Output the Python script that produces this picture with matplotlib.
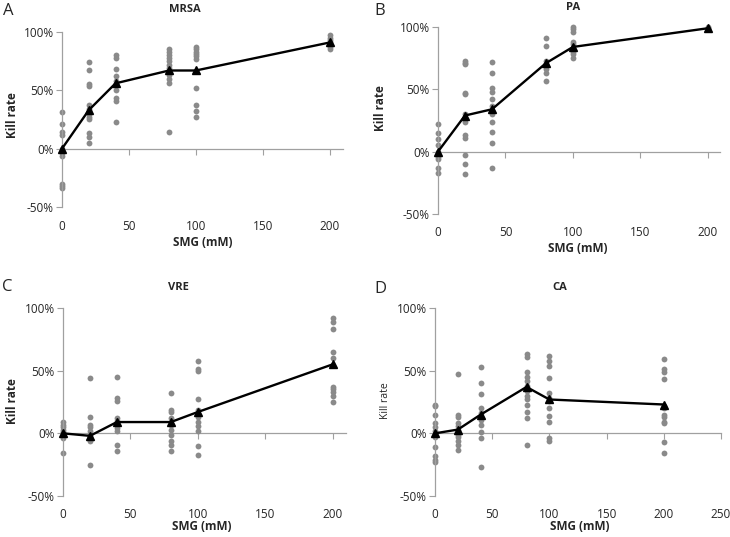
import numpy as np
import matplotlib
matplotlib.use("Agg")
import matplotlib.pyplot as plt
from matplotlib.ticker import FuncFormatter

plt.rcParams['font.family'] = ['Open Sans', 'DejaVu Sans']

# SMG concentrations (mM)
doses = [0, 20, 40, 80, 100, 200]

# individual kill rates (%) per dose
mrsa_pts = [
    [31, 21, 14, 12, 0, -2, -4, -6, -30, -32, -34],
    [74, 67, 55, 54, 37, 34, 32, 30, 27, 25, 13, 10, 5],
    [80, 78, 68, 62, 58, 55, 50, 43, 41, 23],
    [85, 83, 80, 78, 75, 72, 69, 66, 63, 60, 56, 14],
    [87, 85, 83, 81, 79, 77, 52, 37, 32, 27],
    [97, 95, 93, 91, 89, 87, 85],
]
mrsa_mean = [0, 33, 56, 67, 67, 91]

pa_pts = [
    [22, 15, 10, 5, 0, -2, -4, -6, -13, -17],
    [73, 71, 70, 47, 46, 30, 24, 13, 11, -3, -10, -18],
    [72, 63, 51, 48, 42, 37, 33, 30, 24, 16, 7, -13],
    [91, 85, 73, 70, 66, 63, 57],
    [100, 98, 96, 88, 86, 82, 80, 78, 75],
    [100, 99, 98],
]
pa_mean = [0, 29, 34, 71, 84, 99]

vre_pts = [
    [9, 7, 5, 3, 1, 0, -2, -4, -16],
    [44, 13, 7, 5, 2, -1, -3, -4, -5, -6, -25],
    [45, 28, 26, 12, 10, 7, 4, 2, -9, -14],
    [32, 19, 17, 12, 7, 3, -1, -6, -9, -14],
    [58, 51, 50, 27, 19, 13, 9, 6, 2, -10, -17],
    [92, 89, 83, 65, 60, 37, 35, 33, 30, 25],
]
vre_mean = [0, -2, 9, 9, 17, 55]

ca_pts = [
    [23, 22, 15, 8, 5, 2, -1, -3, -11, -18, -21, -23],
    [47, 15, 13, 8, 6, 3, -1, -3, -6, -9, -13],
    [53, 40, 31, 20, 16, 11, 7, 1, -4, -27],
    [63, 61, 49, 45, 42, 38, 34, 30, 27, 23, 17, 12, -9],
    [62, 58, 54, 44, 32, 28, 26, 20, 14, 9, -4, -6],
    [59, 51, 49, 43, 22, 20, 15, 13, 9, 8, -7, -16],
]
ca_mean = [0, 3, 15, 37, 27, 23]

W, H = 730, 537
fig = plt.figure(figsize=(W / 100, H / 100), dpi=100)

# panel: (points, means, name, letter, axes box px [x0, ybottom, x1, ytop], xmax, xticks,
#         title xy, letter xy, xlabel xy, ylabel xy, bold ylabel)
panels = [
    (mrsa_pts, mrsa_mean, 'MRSA', 'A', [62, 207, 343, 32], 210, [0, 50, 100, 150, 200],
     (185, 9), (8, 11), (203, 243), (13, 115), True),
    (pa_pts, pa_mean, 'PA', 'B', [438, 214, 720, 27], 209, [0, 50, 100, 150, 200],
     (573, 8), (380, 11), (578, 248), (380, 108), True),
    (vre_pts, vre_mean, 'VRE', 'C', [63, 496, 346, 308], 210, [0, 50, 100, 150, 200],
     (178, 287), (7, 287), (202, 527), (13, 401), True),
    (ca_pts, ca_mean, 'CA', 'D', [435, 496, 721, 308], 250, [0, 50, 100, 150, 200, 250],
     (560, 287), (380, 289), (580, 527), (385, 401), False),
]

axis_grey = '#a0a0a0'
dot_grey = '#8a8a8a'
text_col = '#262626'

for pts, means, name, letter, box, xmax, xt, tpos, lpos, xlpos, ylpos, ybold in panels:
    x0, yb, x1, yt = box
    ax = fig.add_axes([x0 / W, 1 - yb / H, (x1 - x0) / W, (yb - yt) / H])
    for d, vals in zip(doses, pts):
        ax.plot([d] * len(vals), vals, 'o', color=dot_grey, ms=4.2, mec='none',
                zorder=2, clip_on=False)
    ax.plot(doses, means, '-^', color='black', lw=1.7, ms=6, zorder=3, clip_on=False)

    ax.set_xlim(0, xmax)
    ax.set_ylim(-50, 100)
    ax.set_yticks([-50, 0, 50, 100])
    ax.yaxis.set_major_formatter(FuncFormatter(lambda v, p: '%d%%' % v))
    ax.set_xticks(xt)
    for s in ['top', 'right', 'bottom']:
        ax.spines[s].set_visible(False)
    ax.spines['left'].set_color(axis_grey)
    ax.spines['left'].set_linewidth(0.9)
    ax.tick_params(axis='y', length=4, color=axis_grey, labelsize=8.5,
                   labelcolor=text_col, pad=2)
    ax.tick_params(axis='x', length=0, labelsize=8.5, labelcolor=text_col, pad=9)

    # horizontal axis line crossing at 0%
    sec = ax.secondary_xaxis(1 / 3)
    sec.set_xticks(xt)
    sec.tick_params(axis='x', direction='out', length=4, color=axis_grey, labelbottom=False,
                    labeltop=False)
    sec.xaxis.set_ticks_position('bottom')
    sec.set_xticklabels([])
    for s in sec.spines.values():
        s.set_visible(False)
    sec.spines['bottom'].set_visible(True)
    sec.spines['bottom'].set_color(axis_grey)
    sec.spines['bottom'].set_linewidth(0.9)

    fig.text(tpos[0] / W, 1 - tpos[1] / H, name, ha='center', va='center',
             fontsize=8, fontweight='bold', color=text_col)
    fig.text(lpos[0] / W, 1 - lpos[1] / H, letter, ha='center', va='center',
             fontsize=12, color=text_col)
    fig.text(xlpos[0] / W, 1 - xlpos[1] / H, 'SMG (mM)', ha='center', va='center',
             fontsize=8.5, fontweight='bold', color=text_col)
    fig.text(ylpos[0] / W, 1 - ylpos[1] / H, 'Kill rate', ha='center', va='center',
             rotation=90, fontsize=8.5 if ybold else 7.5,
             fontweight='bold' if ybold else 'normal', color=text_col)

fig.savefig('out.png', dpi=100)
